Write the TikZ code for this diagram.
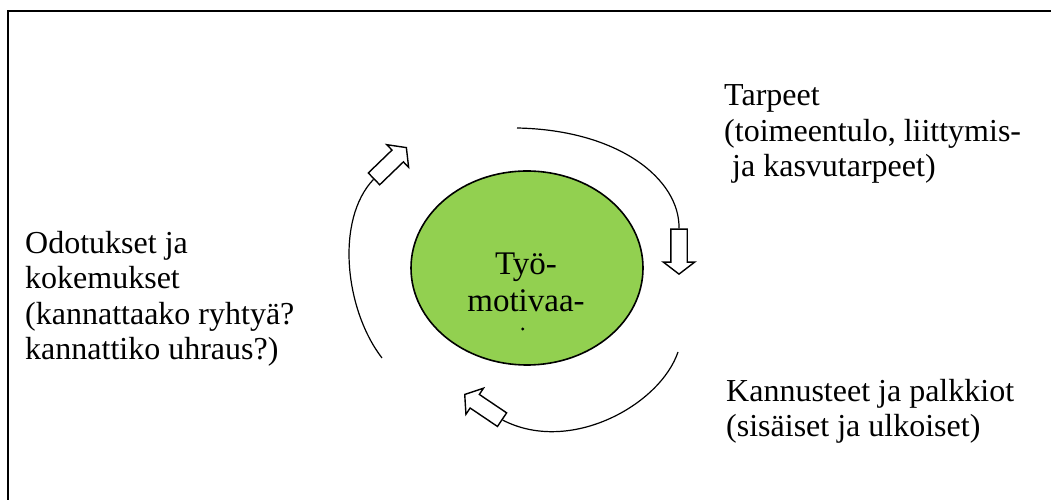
\documentclass[tikz,border=0pt]{standalone}
\usepackage{fontspec}
\setmainfont{Liberation Serif}
\usetikzlibrary{shapes.geometric,shapes.arrows}
\definecolor{motgreen}{HTML}{92D050}

\begin{document}
\begin{tikzpicture}[x=1pt,y=1pt,
  txt/.style={font=\fontsize{32}{35.6}\selectfont,align=left,inner sep=0pt,anchor=base west},
  blockarr/.style={single arrow,draw,fill=white,line width=1.4pt,inner xsep=0pt,inner ysep=7.5pt,
    minimum width=0pt,minimum height=45pt,single arrow head extend=7.5pt,single arrow tip angle=105,anchor=tip},
  curve/.style={line width=1.2pt}]
\useasboundingbox (0,0) rectangle (1051,500);
% frame (right and bottom edges are cut off)
\draw[line width=1.6pt] (8,0) -- (8,489) -- (1051,489);
% the motivation ellipse
\node[ellipse,draw,line width=1.6pt,fill=motgreen,minimum width=232pt,minimum height=194pt,inner sep=0pt] (motiv) at (527,232) {};
\node[txt,font=\fontsize{33}{37}\selectfont,align=center,anchor=base] (motivtxt) at (526,188) {Työ-\\motivaa-};
\fill (522.7,171) circle (1.7);
% block arrows
\node[blockarr,rotate=-90] (needarr) at (679,225) {};
\node[blockarr,rotate=146] (rewardarr) at (464,106) {};
\node[blockarr,rotate=44] (expectarr) at (407,353) {};
% arcs round the ellipse
\coordinate (needstart) at (517,372);
\coordinate (rewardstart) at (678,148);
\coordinate (expectstart) at (382,142);
\draw[curve] (needstart) .. controls (620,370) and (680,320) .. (needarr.tail);
\draw[curve] (rewardstart) .. controls (660,95) and (570,45) .. (rewardarr.tail);
\draw[curve] (expectstart) .. controls (345,190) and (335,280) .. (expectarr.tail);
% labels (base = last line)
\node[txt] (need) at (724,323) {Tarpeet\\(toimeentulo, liittymis-\\\ ja kasvutarpeet)};
\node[txt] (reward) at (726,63) {Kannusteet ja palkkiot\\(sisäiset ja ulkoiset)};
\node[txt] (expect) at (25,140) {Odotukset ja\\kokemukset\\(kannattaako ryhtyä?\\kannattiko uhraus?)};
\end{tikzpicture}
\end{document}
